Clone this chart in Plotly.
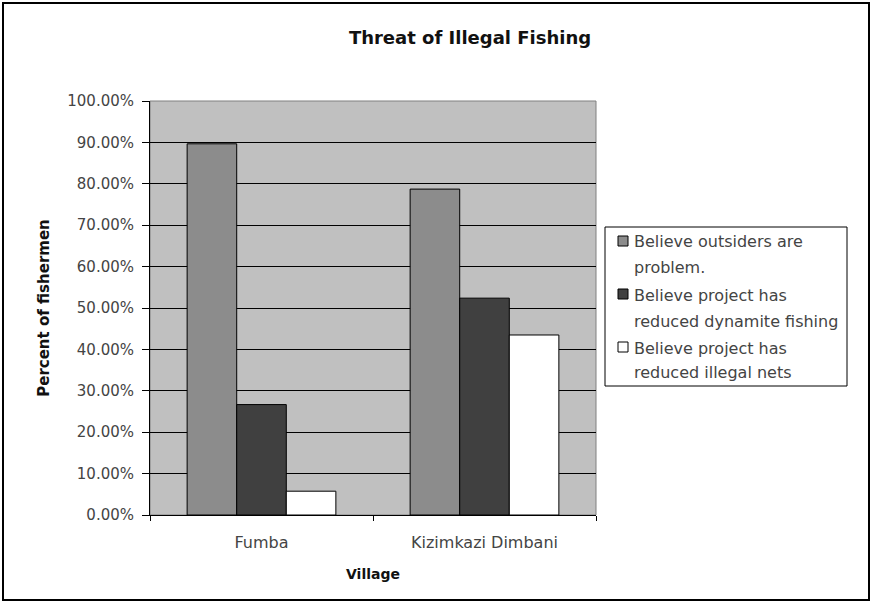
import plotly.graph_objects as go

villages = ["Fumba", "Kizimkazi Dimbani"]
series_lines = [["Believe outsiders are", "problem."],
                ["Believe project has", "reduced dynamite fishing"],
                ["Believe project has", "reduced illegal nets"]]
outsiders = [0.8966, 0.7872]
dynamite = [0.2667, 0.5238]
nets = [0.0575, 0.4348]
colors = ["#8c8c8c", "#404040", "#ffffff"]

font = "DejaVu Sans, Verdana, sans-serif"
fig = go.Figure()
for lines, vals, c in zip(series_lines, [outsiders, dynamite, nets], colors):
    fig.add_trace(go.Bar(x=villages, y=vals, name=" ".join(lines), marker_color=c,
                         marker_line_color="#000000", marker_line_width=1,
                         showlegend=False))

# plot area in pixels: x 150..596, y 101..515
L, R, T, B = 150, 596, 101, 515
def px(x):
    return (x - L) / (R - L)
def py(y):
    return (B - y) / (B - T)

fig.update_layout(
    width=872, height=603,
    margin=dict(l=L, r=872 - R, t=T, b=603 - B),
    paper_bgcolor="white", plot_bgcolor="#c0c0c0",
    barmode="group", bargap=0.333, bargroupgap=0,
    font=dict(family=font, size=14, color="#333333"),
    title=dict(text="<b>Threat of Illegal Fishing</b>", x=470 / 872, xref="container",
               xanchor="center", y=1 - 38 / 603, yanchor="middle",
               font=dict(family=font, size=18, color="#111111")),
    xaxis=dict(showline=True, linecolor="#000000", linewidth=1,
               ticks="outside", tickson="boundaries", ticklen=5, tickcolor="#000000",
               ticklabelstandoff=13,
               tickfont=dict(size=16, color="#444444"),
               title=dict(text="<b>Village</b>", font=dict(size=14, color="#111111"), standoff=17)),
    yaxis=dict(range=[0, 1], dtick=0.1, tickformat=".2%",
               showline=True, linecolor="#000000", linewidth=1,
               ticks="outside", ticklen=7, tickcolor="#000000",
               ticklabelstandoff=5,
               showgrid=True, gridcolor="#000000", gridwidth=1,
               zeroline=False,
               tickfont=dict(size=15, color="#444444"),
               title=dict(text="<b>Percent of fishermen</b>", font=dict(size=15, color="#111111"), standoff=14)),
)
# plot area border
fig.add_shape(type="rect", xref="paper", yref="paper", x0=0, y0=0, x1=1, y1=1,
              line=dict(color="#808080", width=1), layer="below")
# outer frame
fig.add_shape(type="rect", xref="paper", yref="paper",
              x0=px(3), x1=px(869), y0=py(600), y1=py(3),
              line=dict(color="#000000", width=2))

# manual legend
fig.add_shape(type="rect", xref="paper", yref="paper",
              x0=px(605), x1=px(847), y0=py(386), y1=py(227),
              line=dict(color="#000000", width=1), fillcolor="white")
sym_y = [241, 294, 347]
line_y = [[242, 267], [295, 321], [348, 372]]
for c, sy, lys, lines in zip(colors, sym_y, line_y, series_lines):
    fig.add_shape(type="rect", xref="paper", yref="paper",
                  x0=px(618), x1=px(628), y0=py(sy + 5), y1=py(sy - 5),
                  line=dict(color="#000000", width=1), fillcolor=c)
    for ly, txt in zip(lys, lines):
        fig.add_annotation(xref="paper", yref="paper", x=px(632), y=py(ly),
                           xanchor="left", yanchor="middle", showarrow=False,
                           text=txt, font=dict(family=font, size=16, color="#444444"))

fig.write_html("out.html")
